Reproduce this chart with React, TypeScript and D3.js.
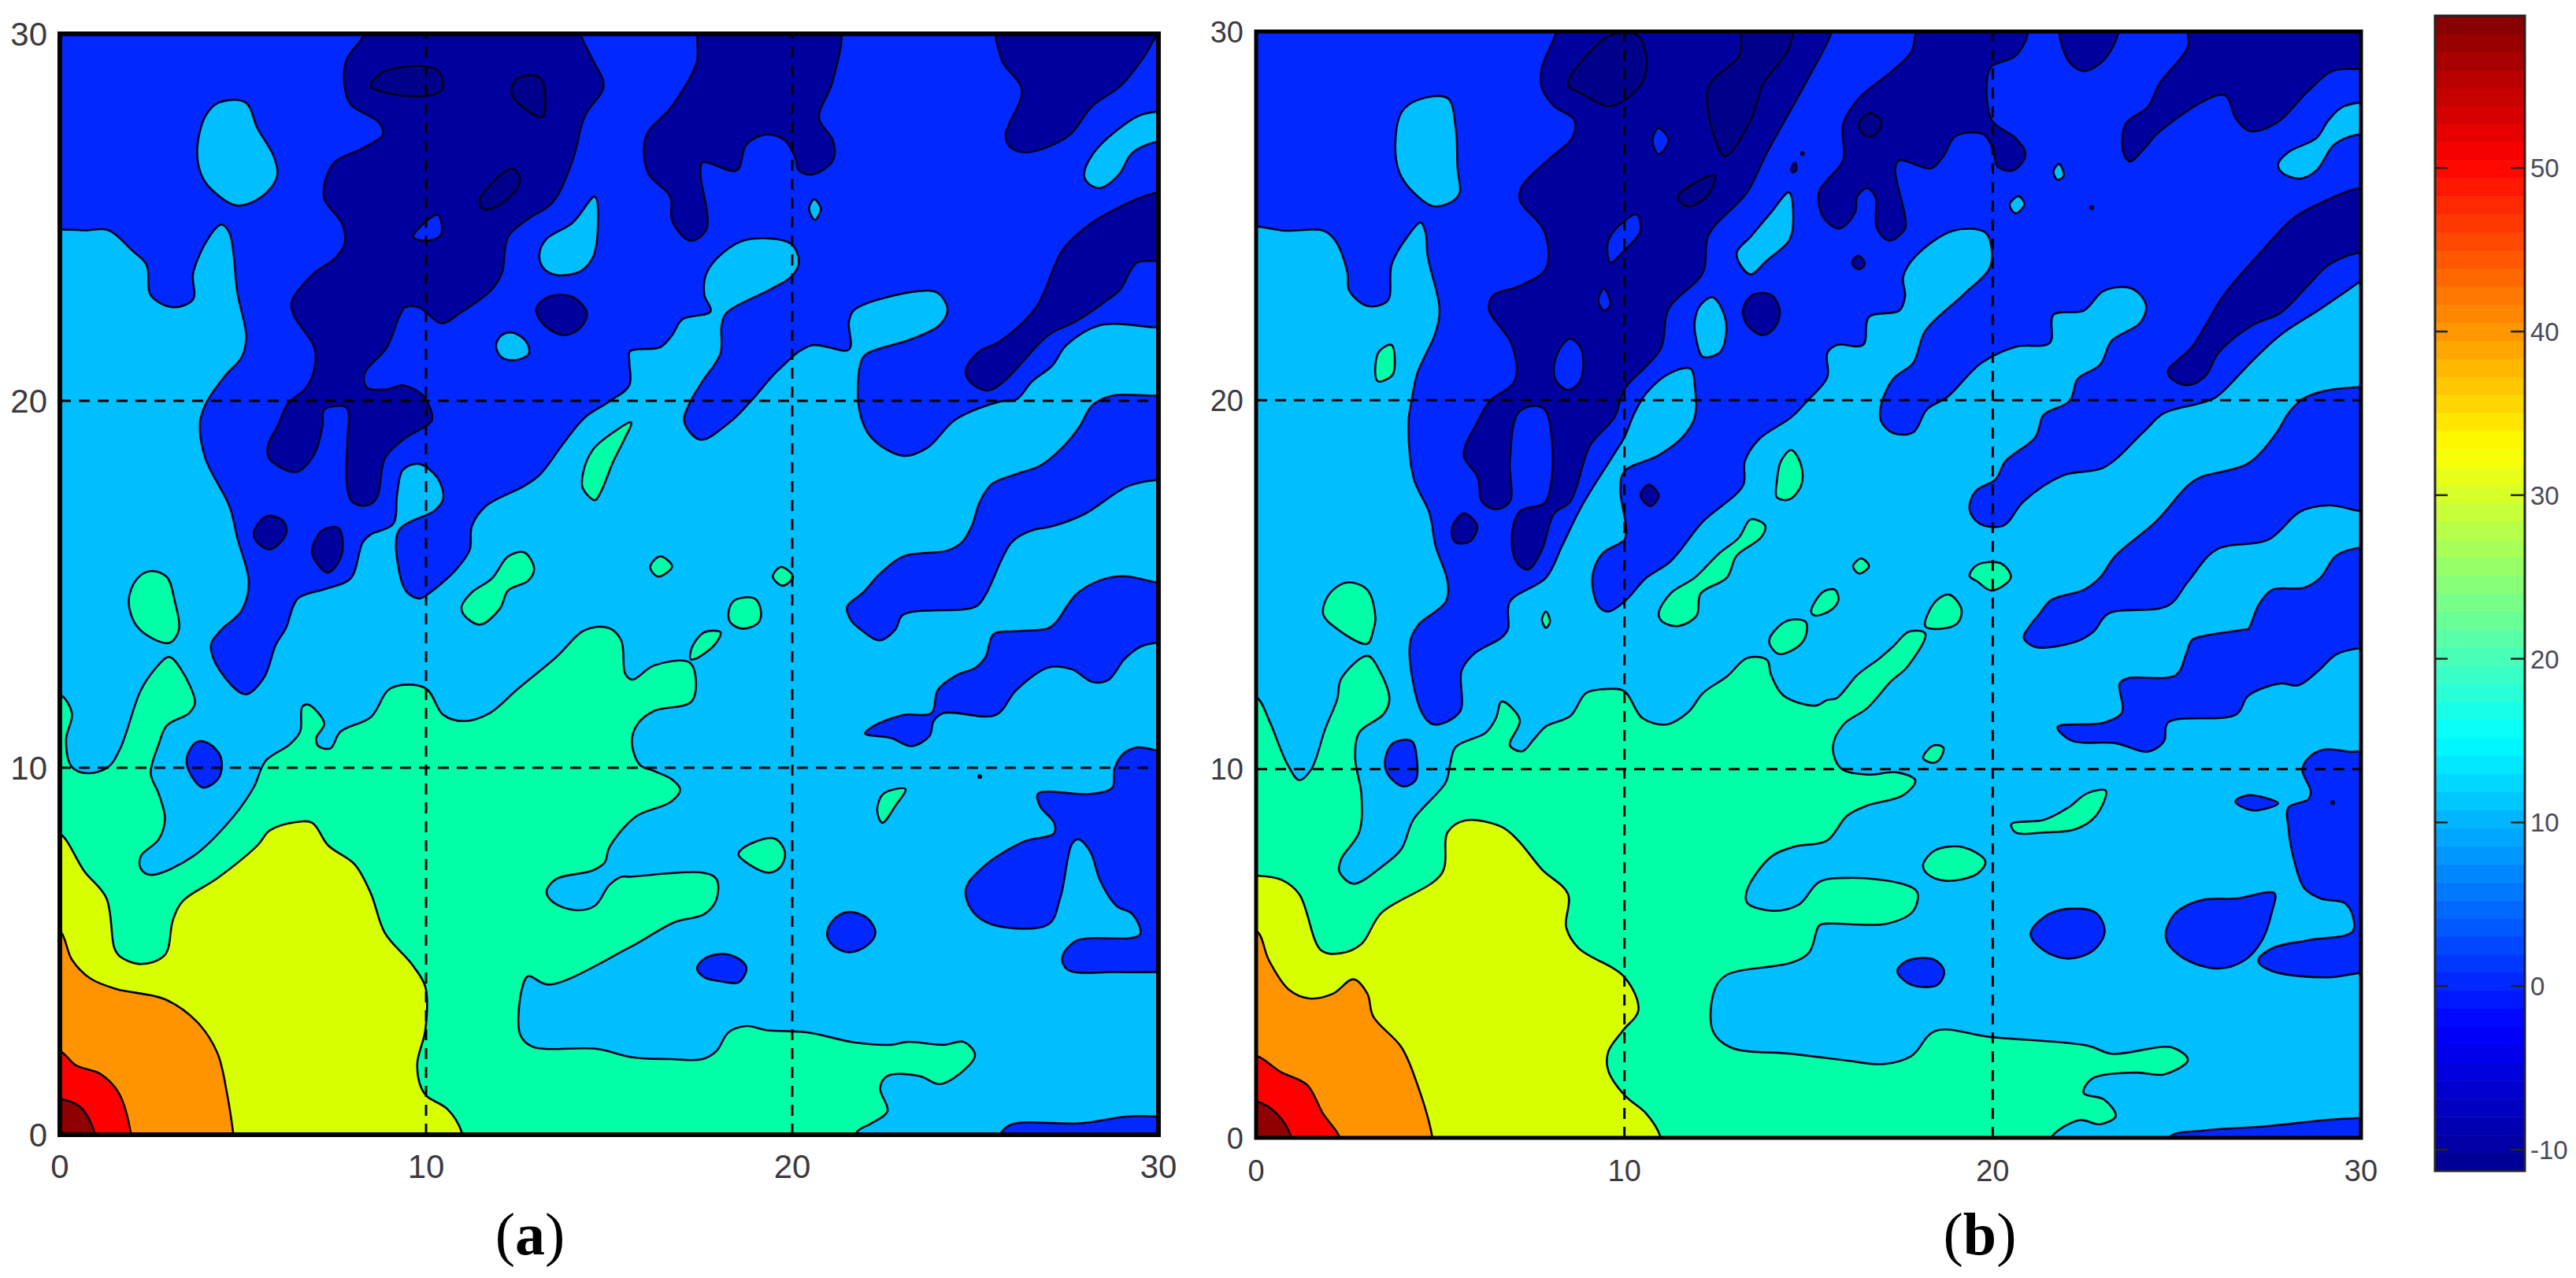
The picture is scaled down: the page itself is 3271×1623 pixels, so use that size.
import React from "react";
import * as d3 from "d3";

type Pt = [number, number];
type Poly = Pt[];

const NAVY = "#00009f", DEEP = "#00008a", BLUE = "#0028ff", SKY = "#00bfff", GREEN = "#00ffa6",
  YELLOW = "#d7ff00", ORANGE = "#ff9400", RED = "#ff0000", MAROON = "#8f0000";

const gridTicks = [10, 20];
const axisTicks = [0, 10, 20, 30];
const barTicks = [-10, 0, 10, 20, 30, 40, 50];
const barDomain: [number, number] = [-11.3, 59.3];
const jetStops = [0, 0.125, 0.375, 0.625, 0.875, 1];
const jetColors = ["#00008f", "#0000ff", "#00ffff", "#ffff00", "#ff0000", "#800000"];

// ---------- panel (a) ----------
const aBlue: Poly[] = [
  [[-0.5,24.9],[0.55,24.65],[1.32,24.65],[1.98,24.09],[2.37,23.7],[2.48,22.88],[3.09,22.55],[3.64,22.77],[3.64,23.48],[4.08,24.47],[4.41,24.8],[4.63,24.58],[4.85,22.94],[5.09,21.73],[4.96,21.18],[4.52,20.69],[4.02,19.98],[3.83,19.43],[3.97,18.44],[4.63,17.13],[4.85,16.25],[5.16,15.05],[4.96,14.28],[4.41,13.76],[4.13,13.36],[4.35,12.68],[5.07,12],[5.57,12.45],[5.9,13.36],[6.17,13.8],[6.5,14.61],[7.28,14.88],[7.94,15.16],[8.27,16.14],[8.49,16.36],[9.1,16.64],[9.21,17.46],[9.37,18.12],[9.81,18.28],[10.31,17.9],[10.47,17.35],[10.25,17.02],[9.26,16.47],[9.26,15.38],[9.48,14.78],[9.81,14.61],[10.03,14.72],[10.8,15.38],[11.19,15.93],[11.25,16.58],[11.63,17.13],[12.68,17.68],[13.12,18],[13.78,18.88],[14.33,19.54],[15,19.98],[15.55,20.42],[15.55,21.07],[15.57,21.35],[16.39,21.46],[16.72,21.79],[17,22.22],[17.77,22.44],[17.6,22.88],[17.66,23.48],[18.1,24.03],[18.75,24.39],[19.96,24.28],[20.18,23.76],[19.96,23.37],[19.41,23.04],[18.2,22.39],[18.07,22.06],[18.04,21.29],[17.55,20.53],[17.22,19.98],[17.05,19.43],[17.49,18.94],[18.31,19.43],[18.86,19.98],[19.63,20.85],[20.51,21.51],[21.55,21.4],[21.55,22.17],[21.72,22.5],[23.47,22.99],[23.97,22.94],[24.24,22.5],[24.02,22.06],[23.25,21.68],[22.05,21.29],[21.88,21.07],[21.83,19.76],[22.16,19],[23.03,18.5],[23.69,18.72],[24.46,19.49],[25.67,19.98],[26.11,20.03],[26.55,20.53],[27.1,20.96],[27.48,21.51],[28.41,22.06],[29.95,22],[30.5,22],[30.5,30.5],[-0.5,30.5]],
  [[30.5,20.2],[29.95,20.14],[28.74,20.14],[28.19,19.87],[27.86,19.32],[27.42,18.77],[26.77,18.23],[26.11,18],[25.45,17.73],[25.12,17.24],[24.9,16.58],[24.63,16.14],[24.24,15.92],[23.03,15.76],[22.38,15.27],[21.94,14.78],[21.5,14.39],[21.61,14.01],[21.88,13.76],[22.38,13.47],[22.81,13.76],[23.03,14.17],[25.01,14.39],[25.28,14.72],[25.99,16.14],[26.55,16.47],[27.1,16.58],[27.97,16.91],[29.18,17.68],[29.95,17.84],[30.5,17.84]],
  [[30.5,15],[29.95,15.05],[29.07,15.22],[28.41,15.11],[27.75,14.72],[27.2,13.96],[26.99,13.8],[26.11,13.72],[25.5,13.64],[25.28,13.02],[25.01,12.73],[24.46,12.51],[23.97,12.11],[23.8,11.49],[23.03,11.44],[22.16,11.1],[21.99,10.93],[22.7,10.81],[23.25,10.59],[23.75,10.87],[23.86,11.27],[24.13,11.49],[25.56,11.44],[26.11,12.11],[26.99,12.73],[27.64,12.68],[28.19,12.34],[28.63,12.39],[29.07,12.96],[29.51,13.3],[29.95,13.41],[30.5,13.41]],
  [[30.5,10.3],[29.95,10.47],[29.4,10.55],[29.02,10.36],[28.8,9.97],[28.74,9.46],[28.19,9.29],[26.71,9.29],[26.77,8.95],[27.15,8.5],[27.15,8.21],[26.33,7.99],[25.23,7.31],[24.74,6.69],[24.9,6.12],[25.45,5.73],[26.99,5.73],[27.32,6.46],[27.64,7.93],[27.81,8.05],[28.14,7.71],[28.41,6.92],[28.85,6.24],[29.29,6.01],[29.49,5.45],[27.75,5.28],[27.37,4.82],[27.53,4.49],[28.85,4.43],[29.95,4.43],[30.5,4.43]],
  [[25.67,0],[25.99,0.28],[27.86,0.31],[29.18,0.5],[29.95,0.5],[30.5,0.5],[30.5,-0.5],[25.6,-0.5]],
  [[20.95,5.5],[21.17,5.9],[21.55,6.07],[22.05,5.9],[22.27,5.5],[22.05,5.16],[21.55,4.97],[21.11,5.16]],
  [[17.4,4.54],[17.66,4.83],[18.2,4.92],[18.64,4.72],[18.75,4.52],[18.53,4.15],[18.04,4.18],[17.6,4.29]],
  [[3.47,10.3],[3.75,10.71],[4.08,10.65],[4.39,10.3],[4.35,9.74],[3.91,9.46],[3.53,9.9]],
];
const aSkyIslands: Poly[] = [
  [[3.75,26.77],[3.97,27.75],[4.35,28.13],[5.07,28.13],[5.4,27.42],[5.84,26.66],[5.93,26.11],[5.51,25.56],[4.85,25.32],[4.3,25.62],[3.91,26.06]],
  [[13.1,24.03],[13.29,24.41],[14,24.85],[14.61,25.56],[14.69,24.69],[14.56,23.92],[14.23,23.54],[13.56,23.43],[13.18,23.65]],
  [[11.91,21.51],[12.07,21.79],[12.35,21.86],[12.73,21.62],[12.81,21.29],[12.46,21.11],[12.07,21.18]],
  [[27.97,26.15],[28.19,26.7],[28.85,27.36],[29.62,27.82],[30.5,27.8],[30.5,27.1],[29.95,27.06],[29.29,26.76],[28.91,26.15],[28.41,25.8],[28.08,25.93]],
  [[20.46,25.24],[20.6,25.49],[20.78,25.24],[20.62,24.93]],
];
const aNavy: Poly[] = [
  [[8.32,30.3],[8.32,30],[7.83,29.29],[7.77,28.63],[7.94,28.08],[8.71,27.59],[8.82,27.26],[8.27,26.88],[7.5,26.5],[7.25,26],[7.22,25.51],[7.72,24.8],[7.77,24.25],[7.5,23.87],[6.95,23.48],[6.34,22.72],[6.39,22.33],[6.95,21.46],[6.95,20.85],[6.73,20.36],[6.23,19.92],[5.95,19.32],[5.68,18.77],[5.71,18.44],[6.45,18.06],[6.95,18.55],[7.17,19.32],[7.22,19.76],[7.83,19.81],[7.85,18.88],[7.83,17.79],[7.99,17.24],[8.38,17.15],[8.65,17.35],[8.88,18.44],[9.37,18.94],[10.14,19.43],[10.17,19.59],[9.92,20.14],[9.37,20.42],[8.93,20.31],[8.38,20.36],[8.32,20.74],[8.93,21.46],[9.26,22.28],[9.43,22.55],[9.81,22.55],[10.42,22.11],[10.92,22.39],[11.8,23.04],[12.07,23.48],[12.24,24.47],[12.79,24.96],[13.45,25.4],[14,26.55],[14.33,27.75],[14.85,28.58],[14.55,29.29],[14.22,30],[14.22,30.3]],
  [[17.55,30.3],[17.38,29.18],[16.72,28.03],[16.01,27.21],[16.06,26.22],[16.67,25.56],[16.72,24.9],[17.22,24.36],[17.66,24.69],[17.49,26.22],[17.55,26.5],[18.48,26.28],[18.75,26.99],[19.3,27.26],[19.8,27.1],[20.07,26.66],[20.18,26.28],[20.56,26.17],[21.11,26.55],[21.11,27.1],[20.73,27.7],[21.11,28.74],[21.22,30.3]],
  [[25.67,30.3],[25.72,29.29],[26.27,28.47],[25.83,27.26],[25.94,26.93],[26.38,26.77],[27.53,27.21],[28.19,28.03],[28.96,28.58],[29.62,29.4],[29.95,29.95],[30.3,30.3]],
  [[30.5,25.67],[29.95,25.67],[28.74,25.18],[27.97,24.69],[27.37,24.09],[26.66,22.55],[25.67,21.62],[25.12,21.35],[24.74,20.85],[24.85,20.52],[25.34,20.28],[25.78,20.53],[26.99,21.79],[27.75,22.17],[28.63,22.77],[28.96,23.04],[29.4,23.76],[29.95,23.81],[30.5,23.81]],
  [[13.01,22.5],[13.34,22.83],[14,22.83],[14.39,22.39],[14.22,22],[13.78,21.79],[13.23,22.06]],
  [[5.31,16.47],[5.68,16.86],[6.12,16.7],[6.17,16.36],[5.73,15.95],[5.35,16.2]],
  [[6.89,15.93],[7.17,16.47],[7.61,16.53],[7.7,15.82],[7.33,15.32],[7,15.6]],
];
const aDeep: Poly[] = [
  [[8.49,28.58],[8.82,28.96],[9.92,29.12],[10.31,29.01],[10.47,28.68],[10.42,28.46],[9.92,28.3],[8.93,28.39]],
  [[12.33,28.41],[12.51,28.8],[13.12,28.8],[13.18,27.75],[12.68,27.97]],
  [[11.47,25.51],[12.35,26.33],[12.57,26.06],[12.29,25.56],[11.8,25.24],[11.53,25.24]],
];
const aBlueInNavy: Poly[] = [
  [[9.65,24.47],[10.31,25.07],[10.44,24.69],[10.36,24.47],[9.98,24.36]],
];
const aGreen: Poly[] = [
  [[-0.5,12],[0,12],[0.33,11.49],[0.17,10.76],[0.33,10.02],[0.77,9.85],[1.32,10.02],[1.65,10.53],[2.21,12.11],[2.59,12.68],[2.98,13.02],[3.31,12.68],[3.69,11.77],[3.53,11.49],[2.92,11.15],[2.7,10.64],[2.48,9.85],[2.7,9.29],[2.87,8.61],[2.7,8.05],[2.21,7.59],[2.21,7.25],[2.48,7.08],[3.64,7.59],[4.69,8.61],[5.29,9.46],[5.62,10.19],[6.28,10.64],[6.56,10.98],[6.62,11.66],[6.78,11.72],[7.22,11.21],[7,10.81],[7.06,10.59],[7.39,10.53],[7.66,10.98],[8.49,11.38],[9.04,12.17],[9.98,12.17],[10.47,11.44],[11.03,11.27],[11.74,11.49],[12.46,12.11],[13.56,13.02],[14.33,13.75],[14.99,13.81],[15.33,13.47],[15.44,12.56],[15.63,12.4],[16.23,12.79],[17.22,12.85],[17.27,11.83],[16.23,11.55],[15.79,11.21],[15.62,10.7],[15.84,10.08],[16.23,9.91],[16.72,9.68],[16.94,9.4],[16.67,9.06],[15.73,8.67],[15,7.82],[14.88,7.42],[14.55,7.2],[13.56,6.97],[13.29,6.63],[13.45,6.35],[14.06,6.12],[14.61,6.24],[15,6.8],[15.33,7.03],[15.57,7.03],[17.55,7.14],[17.93,6.97],[17.93,6.41],[17.6,6.01],[16.78,5.79],[15.57,5.11],[13.34,4.09],[12.79,4.32],[12.62,3.98],[12.57,2.73],[12.9,2.4],[14.66,2.34],[15.63,2.11],[16.67,2.06],[17.55,2.06],[17.93,2.28],[18.26,2.79],[18.75,2.96],[19.3,2.85],[20.4,2.79],[21.72,2.51],[22.7,2.45],[23.14,2.53],[24.13,2.45],[24.68,2.53],[24.99,2.17],[24.57,1.66],[24.02,1.38],[23.47,1.6],[22.6,1.6],[22.4,1.27],[22.6,0.64],[22.16,0.31],[21.77,0.08],[21.6,-0.5],[-0.5,-0.5]],
  [[17.22,12.96],[17.27,13.3],[17.6,13.69],[18.04,13.69],[17.88,13.35],[17.33,12.96]],
  [[18.26,14.23],[18.42,14.56],[18.97,14.61],[19.14,14.29],[19.08,13.96],[18.64,13.79],[18.31,13.96]],
  [[16.12,15.47],[16.39,15.76],[16.72,15.49],[16.34,15.21]],
  [[19.47,15.21],[19.69,15.47],[20.02,15.21],[19.74,14.96]],
  [[14.28,18],[14.55,18.66],[15.21,19.21],[15.6,19.41],[15.38,18.88],[15.11,18.34],[14.77,17.51],[14.61,17.29],[14.28,17.62]],
  [[10.97,14.39],[11.25,14.78],[11.8,15.16],[12.24,15.76],[12.68,15.87],[12.95,15.43],[12.79,15.1],[12.24,14.83],[12.02,14.34],[11.47,13.9],[11.03,14.17]],
  [[1.88,14.53],[2.1,15.14],[2.48,15.36],[2.92,15.2],[3.14,14.53],[3.25,13.76],[2.98,13.4],[2.15,13.8]],
  [[18.53,7.65],[18.86,7.93],[19.52,8.07],[19.8,7.71],[19.69,7.31],[19.36,7.14],[18.86,7.34]],
  [[22.32,8.84],[22.49,9.29],[23.09,9.42],[22.81,8.95],[22.46,8.5]],
];
const aYellow: Poly[] = [[[-0.5,8.3],[0,8.21],[0.66,7.19],[1.27,6.45],[1.49,5.08],[1.65,4.85],[2.21,4.65],[2.87,4.9],[3.09,5.86],[3.36,6.37],[4.3,6.99],[5.4,7.89],[5.73,8.29],[6.45,8.52],[6.89,8.5],[7.33,7.88],[8.05,7.37],[8.49,6.58],[8.88,5.49],[9.6,4.66],[9.98,4.03],[9.98,2.85],[9.76,1.94],[9.87,1.27],[10.03,1.04],[10.58,0.7],[10.97,0.08],[11.03,-0.5],[-0.5,-0.5]]];
const aOrange: Poly[] = [[[-0.5,5.7],[0,5.56],[0.33,4.77],[0.83,4.26],[1.54,3.97],[2.87,3.69],[3.75,3.07],[4.3,2.23],[4.58,1.04],[4.74,0],[4.8,-0.5],[-0.5,-0.5]]];
const aRed: Poly[] = [[[-0.5,2.3],[0,2.28],[0.44,1.89],[1.1,1.66],[1.6,1.15],[1.93,0.08],[1.96,-0.5],[-0.5,-0.5]]];
const aMaroon: Poly[] = [[[-0.5,1],[0,0.98],[0.55,0.76],[0.94,0.08],[0.96,-0.5],[-0.5,-0.5]]];
const aDots: Pt[] = [[25.12,9.76]];

// ---------- panel (b) ----------
const bBlue: Poly[] = [
  [[-0.5,24.7],[0.02,24.71],[0.79,24.6],[1.82,24.6],[2.15,24.33],[2.48,23.46],[2.53,22.97],[3.02,22.56],[3.57,22.7],[3.68,23.68],[4.11,24.44],[4.47,24.82],[4.6,24.55],[4.66,23.9],[4.98,22.48],[4.87,21.83],[4.38,20.74],[4.22,19.98],[4.14,19.43],[4.27,17.91],[4.71,16.93],[4.87,16.06],[5.2,15.08],[5.15,14.54],[4.38,13.88],[4.17,13.35],[4.49,11.55],[4.82,11.21],[5.53,11.55],[5.58,12.67],[5.91,13.12],[6.67,13.57],[6.84,13.8],[6.89,14.54],[7.87,15.19],[8.31,16.06],[8.85,17.15],[9.73,18.56],[10,19],[10.27,19.65],[10.6,20.2],[11.25,20.74],[11.8,20.85],[11.91,20.41],[11.91,19.54],[11.58,19],[10.93,18.51],[10,18.07],[9.89,17.58],[10.05,16.5],[10,16.22],[9.4,15.84],[9.13,15.19],[9.29,14.43],[9.56,14.27],[10,14.54],[10.6,15.19],[11.25,15.63],[12.13,16.71],[13.22,17.69],[13.27,18.35],[13.65,18.94],[14.53,19.54],[14.96,19.98],[15.51,20.63],[15.51,21.28],[15.77,21.5],[16.48,21.5],[16.64,22.26],[17.46,22.43],[17.62,22.81],[17.57,23.35],[17.9,23.9],[18.93,24.6],[19.8,24.55],[19.97,24.11],[19.91,23.57],[19.2,22.86],[18.17,21.88],[17.84,21.01],[17.3,20.58],[16.97,19.87],[16.97,19.43],[17.3,19.11],[17.84,19.13],[18.22,19.76],[18.77,20.09],[19.69,21.01],[20.62,21.45],[21.55,21.56],[21.65,22.32],[22.47,22.43],[23.02,22.97],[23.78,23.03],[24.16,22.59],[24,22.1],[23.23,21.61],[22.91,20.96],[22.31,20.58],[22.09,19.98],[21.38,19.6],[21.16,19],[20.35,18.35],[20.08,17.86],[19.53,17.53],[19.37,17.04],[19.64,16.66],[20.29,16.6],[20.84,17.26],[21.93,17.97],[23.02,18.18],[24.11,19.16],[24.65,19.65],[25.63,19.92],[26.07,20.09],[27.05,21.07],[27.81,21.77],[28.9,22.48],[29.93,23.19],[30.5,23.6],[30.5,30.5],[-0.5,30.5]],
  [[30.5,20.36],[29.99,20.36],[29,20.25],[28.41,20.03],[28.03,19.65],[27.7,19.11],[26.94,18.29],[25.63,17.91],[25.3,17.69],[24.43,16.71],[23.34,15.79],[22.91,15.19],[22.47,14.86],[21.6,14.59],[21.27,14.21],[20.95,13.8],[20.84,13.56],[21.16,13.31],[22.25,13.45],[22.74,13.73],[23.13,14.21],[24.76,14.43],[25.3,15.08],[26.07,15.95],[27.48,16.22],[28.35,16.98],[29.12,17.15],[29.99,16.99],[30.5,16.95]],
  [[30.5,16],[29.99,16.01],[29.33,15.79],[28.9,15.19],[28.46,14.92],[27.59,14.86],[27.21,14.43],[26.94,13.8],[26.83,13.78],[25.74,13.61],[25.41,13.5],[25.25,13.11],[24.98,12.55],[23.67,12.46],[23.45,12.32],[23.51,11.54],[23.02,11.26],[21.76,11.14],[22.14,10.77],[23.34,10.7],[24.21,10.47],[24.65,10.75],[24.76,11.26],[26.61,11.48],[26.94,11.99],[27.81,12.32],[28.3,12.27],[28.84,12.66],[29.33,13.11],[29.99,13.28],[30.5,13.28]],
  [[30.5,10.35],[29.66,10.47],[29.01,10.53],[28.57,10.3],[28.41,9.97],[28.63,9.41],[28.57,9.18],[28.03,8.96],[28.03,8.4],[28.19,7.5],[28.46,6.77],[28.9,6.49],[29.55,6.37],[29.77,6.04],[29.77,5.59],[28.57,5.36],[27.59,5.14],[27.21,4.8],[27.59,4.52],[29.12,4.35],[29.99,4.47],[30.5,4.47]],
  [[24.81,0.03],[25.74,0.2],[27.37,0.31],[29.01,0.48],[29.99,0.54],[30.5,0.54],[30.5,-0.5],[24.7,-0.5]],
  [[24.7,5.43],[24.92,6.05],[25.63,6.44],[26.61,6.49],[27.65,6.63],[27.59,6.16],[27.32,5.37],[26.83,4.81],[26.07,4.59],[25.09,4.93]],
  [[21.03,5.53],[21.38,5.98],[22.04,6.21],[22.8,6.1],[23.04,5.59],[22.74,5.09],[22.04,4.86],[21.38,5.09]],
  [[17.41,4.52],[17.68,4.8],[18.39,4.84],[18.68,4.52],[18.5,4.15],[17.79,4.15]],
  [[26.59,9.12],[26.94,9.29],[27.75,9.07],[27.05,8.88]],
  [[3.51,10.31],[3.73,10.71],[4.22,10.76],[4.36,10.31],[4.33,9.7],[4,9.53],[3.57,9.87]],
];
const bSkyIslands: Poly[] = [
  [[3.78,26.94],[3.95,27.81],[4.38,28.14],[5.2,28.19],[5.42,27.38],[5.47,26.29],[5.53,25.64],[5.37,25.42],[4.82,25.26],[4.27,25.64],[3.89,26.18]],
  [[13.05,24],[13.43,24.44],[13.98,25.09],[14.47,25.64],[14.58,24.77],[14.47,24.33],[13.87,23.79],[13.43,23.41],[13.22,23.57]],
  [[11.91,22.15],[12.07,22.59],[12.4,22.79],[12.73,22.26],[12.73,21.61],[12.57,21.28],[12.13,21.18],[11.96,21.61]],
  [[27.75,26.4],[28.03,26.73],[28.79,27.11],[29.12,27.6],[29.55,27.98],[30.5,28],[30.5,27.2],[29.93,27.21],[29.28,26.94],[28.79,26.23],[28.35,26.01],[27.86,26.17]],
  [[21.65,26.2],[21.8,26.41],[21.93,26.09],[21.76,25.98]],
  [[20.46,25.31],[20.71,25.53],[20.86,25.31],[20.62,25.07]],
];
const bNavy: Poly[] = [
  [[8.15,30.3],[8.15,29.99],[7.76,29.01],[7.76,28.47],[8.09,27.98],[8.64,27.6],[8.58,27.11],[7.98,26.56],[7.22,25.8],[7.16,25.42],[7.82,24.6],[7.87,23.57],[7.11,23.08],[6.46,22.86],[6.32,22.48],[6.95,21.5],[7.02,20.52],[6.35,19.98],[6.02,19.43],[5.64,18.51],[6.02,17.91],[6.13,17.26],[6.51,17.04],[6.89,17.26],[6.89,18.35],[7.11,19.65],[7.55,19.85],[7.87,19.71],[7.87,17.26],[7.16,16.99],[6.95,16.39],[7.06,15.63],[7.38,15.41],[7.76,15.95],[8.09,16.93],[8.53,17.26],[9.07,18.78],[9.73,19.54],[10,20.3],[10.98,21.39],[11.2,22.48],[12.13,23.46],[12.29,24.49],[13.33,25.64],[13.87,26.72],[14.96,28.68],[15.62,29.99],[15.62,30.3]],
  [[17.9,30.3],[17.9,29.93],[17.79,29.45],[17.24,28.9],[16.37,28.19],[15.94,27.49],[15.94,26.51],[15.5,25.96],[15.28,25.64],[15.39,24.98],[15.83,24.66],[16.26,25.09],[16.32,25.53],[16.59,25.75],[16.81,25.53],[16.86,24.66],[17.19,24.33],[17.62,24.66],[17.62,24.98],[17.35,26.29],[17.46,26.51],[18.33,26.29],[18.66,26.62],[18.99,27.16],[19.75,27.21],[20.02,26.78],[20.13,26.34],[20.57,26.24],[20.89,26.67],[20.62,27.11],[19.97,27.6],[19.86,28.79],[19.97,29.06],[20.62,29.34],[20.95,29.93],[20.95,30.3]],
  [[21.87,30.3],[22.04,29.23],[22.47,28.93],[23.02,29.23],[23.4,29.93],[23.4,30.3]],
  [[25.36,30.3],[25.3,29.58],[24.54,28.6],[24.21,27.95],[23.62,27.51],[23.54,26.75],[23.72,26.48],[24.1,26.81],[24.54,27.3],[26.28,28.28],[26.61,27.63],[26.99,27.3],[27.7,27.52],[28.57,28.39],[29.23,28.93],[29.99,28.98],[30.5,28.98],[30.5,30.3]],
  [[30.5,25.74],[29.93,25.75],[28.68,25.24],[28.14,24.92],[27.26,23.99],[26.28,22.86],[25.85,22.15],[25.41,21.44],[24.76,20.79],[24.87,20.57],[25.3,20.41],[25.79,20.68],[26.12,21.28],[27.05,22.04],[27.81,22.37],[28.57,23.13],[29.12,23.67],[29.93,24],[30.5,24]],
  [[13.22,22.48],[13.49,22.86],[13.98,22.86],[14.22,22.43],[14.09,21.99],[13.76,21.77],[13.33,22.05]],
  [[10.44,17.42],[10.66,17.71],[10.93,17.42],[10.71,17.13]],
  [[5.31,16.5],[5.64,16.93],[6,16.6],[5.8,16.17],[5.42,16.15]],
  [[14.53,26.29],[14.64,26.45],[14.66,26.23],[14.56,26.18]],
  [[16.18,23.73],[16.35,23.92],[16.53,23.7],[16.35,23.55]],
];
const bDeep: Poly[] = [
  [[8.47,28.57],[9.4,29.77],[9.73,29.93],[10.38,29.88],[10.6,29.01],[10.38,28.47],[9.62,27.98],[8.85,28.31]],
  [[12.29,28.52],[13.11,29.34],[13.27,30.3],[14.53,30.3],[14.47,29.55],[13.76,28.57],[13.43,27.59],[12.73,26.62],[12.4,27.27]],
  [[11.45,25.53],[12.45,26.1],[12.24,25.53],[11.69,25.26]],
  [[16.37,27.46],[16.64,27.79],[16.97,27.57],[16.81,27.19],[16.53,27.19]],
];
const bBlueInNavy: Poly[] = [
  [[10.76,27.05],[10.93,27.38],[11.2,27.05],[10.93,26.67]],
  [[9.29,22.7],[9.45,23.03],[9.62,22.59],[9.45,22.43]],
  [[9.56,24.33],[9.95,24.82],[10.33,25.04],[10.44,24.6],[10,24.06],[9.62,23.73]],
  [[8.09,20.96],[8.31,21.5],[8.53,21.67],[8.83,21.39],[8.8,20.52],[8.47,20.28],[8.15,20.52]],
];
const bGreen: Poly[] = [
  [[-0.5,12],[0.02,11.94],[0.35,11.33],[0.84,10.15],[1.17,9.7],[1.49,9.98],[1.88,11.1],[2.2,11.89],[2.31,12.45],[3.02,13.07],[3.35,12.67],[3.62,11.89],[3.46,11.49],[2.8,10.99],[2.69,10.31],[2.86,9.3],[2.8,8.29],[2.31,7.56],[2.26,7.22],[2.64,6.89],[3.46,7.39],[3.95,7.84],[4.27,8.63],[5.15,9.64],[5.26,10.09],[5.42,10.6],[6.24,10.99],[6.51,11.38],[6.67,11.83],[7.16,11.33],[6.89,10.65],[7.22,10.48],[7.55,10.82],[7.87,11.16],[8.53,11.44],[8.96,12.06],[9.51,12.17],[10,12.11],[10.49,11.38],[11.15,11.21],[11.74,11.55],[12.13,12.06],[12.78,12.51],[13.33,13.01],[13.87,12.96],[13.98,12.56],[14.31,12],[15.18,11.72],[15.5,11.87],[15.77,11.93],[16.32,12.55],[16.92,13],[17.3,13.33],[17.73,13.73],[18.17,13.67],[17.68,12.77],[17.24,12.38],[16.59,11.65],[15.94,11.2],[15.66,10.58],[15.88,10.02],[16.59,9.85],[17.41,9.91],[17.9,9.69],[17.57,9.29],[16.59,9.01],[16.04,8.73],[15.5,8.06],[14.63,7.9],[13.98,7.62],[13.33,6.72],[13.33,6.38],[13.98,6.16],[14.74,6.33],[15.29,6.94],[16.15,7.05],[17.57,6.88],[17.95,6.66],[17.84,6.15],[17.13,5.81],[15.5,5.81],[15.29,5.76],[15.02,5.03],[14.53,4.75],[12.78,4.42],[12.45,4.02],[12.4,2.9],[12.89,2.45],[14.53,2.28],[15.94,2.11],[17.03,2],[17.79,2.22],[18.44,2.9],[19.97,2.73],[22.58,2.5],[23.23,2.28],[24.87,2.45],[25.3,2.11],[24.65,1.72],[23.89,1.77],[22.69,1.6],[22.47,1.21],[23.02,1.04],[23.34,0.59],[22.91,0.37],[22.36,0.48],[21.6,0.03],[21.44,-0.5],[-0.5,-0.5]],
  [[3.24,20.96],[3.35,21.34],[3.68,21.5],[3.73,20.74],[3.57,20.58],[3.3,20.52]],
  [[1.82,14.21],[1.99,14.75],[2.47,15.06],[3.02,14.86],[3.24,14.1],[3.19,13.8],[3.02,13.4],[2.2,13.8]],
  [[14.14,17.8],[14.25,18.35],[14.53,18.65],[14.8,18.24],[14.8,17.69],[14.47,17.31],[14.14,17.37]],
  [[10.93,14.21],[11.25,14.76],[11.91,15.19],[12.56,15.84],[13.11,16.28],[13.43,16.77],[13.82,16.6],[13.71,16.28],[13.05,15.79],[12.78,15.19],[12.07,14.76],[11.96,14.16],[11.47,13.88],[11.04,13.99]],
  [[7.76,14.05],[7.87,14.27],[7.98,14],[7.87,13.83]],
  [[15.07,14.27],[15.4,14.81],[15.72,14.86],[15.81,14.59],[15.62,14.32],[15.18,14.16]],
  [[13.93,13.46],[14.2,13.12],[14.8,13.4],[14.96,13.8],[14.91,14],[14.53,14.05],[14.2,13.88]],
  [[16.21,15.5],[16.43,15.71],[16.64,15.5],[16.37,15.3]],
  [[19.37,15.24],[19.59,15.54],[20.24,15.57],[20.49,15.19],[19.97,14.84],[19.59,15.08]],
  [[18.17,13.87],[18.44,14.54],[18.82,14.73],[19.15,14.33],[19.04,13.95],[18.55,13.8]],
  [[18.11,10.3],[18.39,10.64],[18.66,10.58],[18.55,10.25],[18.35,10.17]],
  [[20.51,8.51],[21.38,8.62],[22.04,8.95],[22.58,9.35],[23.07,9.41],[22.8,8.73],[22.25,8.37],[21.38,8.28],[20.62,8.28]],
  [[18.11,7.4],[18.44,7.8],[19.2,7.88],[19.8,7.5],[19.58,7.16],[18.71,6.97],[18.22,7.16]],
];
const bYellow: Poly[] = [[[-0.5,7.1],[0.02,7.11],[0.68,7],[1.17,6.61],[1.77,5.08],[2.31,5.01],[2.86,5.26],[3.4,6.1],[5.04,7.17],[5.2,8.29],[5.69,8.61],[6.67,8.43],[7.11,8.07],[7.76,7.28],[8.47,6.61],[8.42,5.71],[8.75,5.15],[10,4.36],[10.38,3.46],[9.95,2.9],[9.56,2.33],[9.56,1.83],[10,1.16],[10.6,0.65],[10.98,0.03],[11.04,-0.5],[-0.5,-0.5]]];
const bOrange: Poly[] = [[[-0.5,5.6],[0.02,5.6],[0.35,4.81],[0.89,4.02],[1.44,3.78],[2.09,3.91],[2.64,4.3],[3.02,3.91],[3.18,3.29],[3.95,2.45],[4.38,1.44],[4.77,0.09],[4.82,-0.5],[-0.5,-0.5]]];
const bRed: Poly[] = [[[-0.5,2.25],[0.02,2.22],[0.68,1.78],[1.38,1.44],[1.82,0.65],[2.26,0.03],[2.3,-0.5],[-0.5,-0.5]]];
const bMaroon: Poly[] = [[[-0.5,1],[0.02,0.99],[0.57,0.65],[0.95,0.03],[1,-0.5],[-0.5,-0.5]]];
const bDots: Pt[] = [[14.83,26.69],[22.69,25.22],[29.23,9.09]];

type Layer = [Poly[], string];
const aLayers: Layer[] = [[aBlue, BLUE],[aSkyIslands, SKY],[aNavy, NAVY],[aDeep, DEEP],[aBlueInNavy, BLUE],[aGreen, GREEN],[aYellow, YELLOW],[aOrange, ORANGE],[aRed, RED],[aMaroon, MAROON]];
const bLayers: Layer[] = [[bBlue, BLUE],[bSkyIslands, SKY],[bNavy, NAVY],[bDeep, DEEP],[bBlueInNavy, BLUE],[bGreen, GREEN],[bYellow, YELLOW],[bOrange, ORANGE],[bRed, RED],[bMaroon, MAROON]];

const SANS = "'Liberation Sans', Arial, sans-serif";
const SERIF = "'Liberation Serif', 'Times New Roman', serif";

function Panel({ id, layers, dots, box, frame, fontSize, label, labelX }: {
  id: string; layers: Layer[]; dots: Pt[]; box: [number, number, number, number];
  frame: number; fontSize: number; label: string; labelX: number;
}) {
  const [x0, x1, y1, y0] = box;
  const x = d3.scaleLinear().domain([0, 30]).range([x0, x1]);
  const y = d3.scaleLinear().domain([0, 30]).range([y0, y1]);
  const path = d3.line<Pt>().x((d) => x(d[0])).y((d) => y(d[1])).curve(d3.curveCatmullRomClosed.alpha(0.5));
  return (
    <g>
      <clipPath id={id}><rect x={x0} y={y1} width={x1 - x0} height={y0 - y1} /></clipPath>
      <g clipPath={`url(#${id})`}>
        <rect x={x0} y={y1} width={x1 - x0} height={y0 - y1} fill={SKY} />
        {layers.map(([polys, color], i) => (
          <g key={i}>
            {polys.map((p, j) => (
              <path key={j} d={path(p) ?? ""} fill={color} stroke="#000018" strokeWidth={2.6} strokeLinejoin="round" />
            ))}
          </g>
        ))}
        {dots.map((d, i) => <circle key={i} cx={x(d[0])} cy={y(d[1])} r={3} fill="#000020" />)}
      </g>
      {gridTicks.map((t) => (
        <g key={t}>
          <line x1={x(t)} x2={x(t)} y1={y0} y2={y1} stroke="#000" strokeWidth={3} strokeDasharray="14 10" />
          <line x1={x0} x2={x1} y1={y(t)} y2={y(t)} stroke="#000" strokeWidth={3} strokeDasharray="14 10" />
        </g>
      ))}
      <rect x={x0} y={y1} width={x1 - x0} height={y0 - y1} fill="none" stroke="#000" strokeWidth={frame} />
      {axisTicks.map((t) => (
        <g key={t} fontFamily={SANS} fontSize={fontSize} fill="#3a3a40">
          <text x={x0 - 16} y={y(t) + fontSize * 0.36} textAnchor="end">{t}</text>
          <text x={x(t)} y={y0 + 55} textAnchor="middle">{t}</text>
        </g>
      ))}
      <text x={labelX} y={1593} textAnchor="middle" fontFamily={SERIF} fontSize={76} fill="#000">
        (<tspan fontWeight="bold">{label}</tspan>)
      </text>
    </g>
  );
}

function ColorBar() {
  const [xa, xb, top, bottom] = [3092, 3206, 20, 1487];
  const y = d3.scaleLinear().domain(barDomain).range([bottom, top]);
  const jet = d3.scaleLinear<string>().domain(jetStops).range(jetColors).interpolate(d3.interpolateRgb);
  const bands = d3.range(64);
  const band = d3.scaleBand<number>().domain(bands).range([bottom, top]);
  return (
    <g>
      {bands.map((b) => (
        <rect key={b} x={xa} y={band(b)!} width={xb - xa} height={band.bandwidth() + 0.5} fill={jet((b + 0.5) / 64)} />
      ))}
      <rect x={xa} y={top} width={xb - xa} height={bottom - top} fill="none" stroke="#222" strokeWidth={3} />
      {barTicks.map((t) => (
        <g key={t}>
          <line x1={xa} x2={xa + 16} y1={y(t)} y2={y(t)} stroke="#222" strokeWidth={2.5} />
          <line x1={xb - 18} x2={xb} y1={y(t)} y2={y(t)} stroke="#222" strokeWidth={2.5} />
          <text x={xb + 7} y={y(t) + 12} fontFamily={SANS} fontSize={33} fill="#4a4a58">{t}</text>
        </g>
      ))}
    </g>
  );
}

export default function App() {
  return (
    <svg width={3271} height={1623} viewBox="0 0 3271 1623" style={{ position: "absolute", left: 0, top: 0, display: "block", background: "#fff" }}>
      <Panel id="clipA" layers={aLayers} dots={aDots} box={[76, 1471, 43, 1441]} frame={6} fontSize={42} label="a" labelX={673} />
      <Panel id="clipB" layers={bLayers} dots={bDots} box={[1595, 2998, 40, 1445]} frame={5} fontSize={38} label="b" labelX={2514} />
      <ColorBar />
    </svg>
  );
}
